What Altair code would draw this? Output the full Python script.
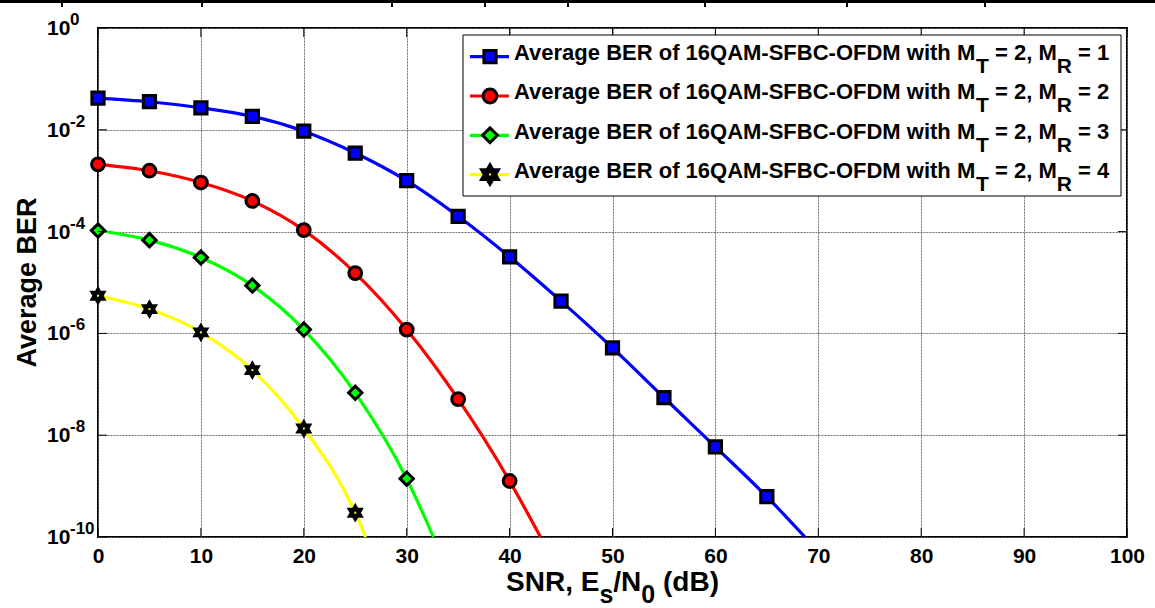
import altair as alt
import pandas as pd

# ---------------- data ----------------
series = ["MR1", "MR2", "MR3", "MR4"]
mr_labels = ["1", "2", "3", "4"]

snr_mr1 = [0, 5, 10, 15, 20, 25, 30, 35, 40, 45, 50, 55, 60, 65]
ber_mr1 = [4.2e-2, 3.56e-2, 2.71e-2, 1.84e-2, 9.4e-3, 3.5e-3, 1.0e-3, 2.0e-4,
           3.2e-5, 4.3e-6, 5.2e-7, 5.5e-8, 5.9e-9, 6.2e-10]
snr_mr2 = [0, 5, 10, 15, 20, 25, 30, 35, 40]
ber_mr2 = [2.1e-3, 1.57e-3, 9.2e-4, 4.0e-4, 1.07e-4, 1.53e-5, 1.19e-6, 5.1e-8, 1.26e-9]
snr_mr3 = [0, 5, 10, 15, 20, 25, 30]
ber_mr3 = [1.05e-4, 6.8e-5, 3.1e-5, 8.7e-6, 1.19e-6, 6.8e-8, 1.4e-9]
snr_mr4 = [0, 5, 10, 15, 20, 25]
ber_mr4 = [5.5e-6, 3.0e-6, 1.05e-6, 1.9e-7, 1.35e-8, 3.0e-10]

# SNR where each curve leaves the plot through the 1e-10 floor
exit_snr = [68.7, 43.0, 32.6, 26.0]
floor_ber = 1e-10

x_tick_values = [0, 10, 20, 30, 40, 50, 60, 70, 80, 90, 100]
y_exponents = [0, -2, -4, -6, -8, -10]

# ---------------- styles ----------------
colors = ["#0000ff", "#ff0000", "#00ff00", "#ffff00"]
marker_fill = ["#0000ff", "#ff0000", "#00ff00", "#000000"]
star_path = ("M0,-1L0.289,-0.5L0.866,-0.5L0.577,0L0.866,0.5L0.289,0.5L0,1"
             "L-0.289,0.5L-0.866,0.5L-0.577,0L-0.866,-0.5L-0.289,-0.5Z")
shapes = ["square", "circle", "diamond", star_path]
sizes = [150, 190, 220, 380]
MSTROKE = 3

FONT = "Liberation Sans"
W, H = 1029, 509
PAD_L, PAD_T, PAD_R, PAD_B = 98, 28, 28, 71

# Arial/Liberation Sans Bold advance widths (per 1000 em), for placing sub-scripts
AW = {"A": 722, "B": 722, "C": 722, "D": 722, "E": 667, "F": 611, "M": 833, "N": 722,
      "O": 778, "Q": 778, "R": 722, "S": 667, "T": 611, "a": 556, "b": 611, "d": 611,
      "e": 556, "f": 333, "g": 611, "h": 611, "i": 278, "o": 611, "r": 389, "s": 556,
      "t": 333, "v": 556, "w": 778, " ": 278, "-": 333, "=": 584, ",": 278, "/": 278,
      "(": 333, ")": 333}


def tw(s, size):
    return sum(AW.get(c, 556) for c in s) * size / 1000.0


# ---------------- tables ----------------
pts_rows, line_rows = [], []
for name, xs, ys, xe in zip(series, [snr_mr1, snr_mr2, snr_mr3, snr_mr4],
                            [ber_mr1, ber_mr2, ber_mr3, ber_mr4], exit_snr):
    for a, b in zip(xs, ys):
        pts_rows.append({"series": name, "snr": a, "ber": b})
        line_rows.append({"series": name, "snr": a, "ber": b})
    line_rows.append({"series": name, "snr": xe, "ber": floor_ber})
pts = pd.DataFrame(pts_rows)
line_df = pd.DataFrame(line_rows)

xt_df = pd.DataFrame({"snr": x_tick_values})
yt_df = pd.DataFrame({"ber": [10.0 ** e for e in y_exponents],
                      "exp": [str(e) for e in y_exponents]})
one = pd.DataFrame({"k": [0]})

# ---------------- scales / encodings ----------------
xscale = alt.Scale(domain=[0, 100], nice=False, zero=False)
yscale = alt.Scale(type="log", domain=[1e-10, 1], nice=False)

xaxis = alt.Axis(values=x_tick_values, grid=True, ticks=False, domain=False, title=None,
                 labelFont=FONT, labelFontSize=21, labelFontWeight="bold",
                 labelColor="black", labelPadding=8, labelFlush=False,
                 gridColor="#707070", gridDash=[2, 1], gridWidth=1)
yaxis = alt.Axis(values=[10.0 ** e for e in y_exponents], grid=True, ticks=False,
                 domain=False, labels=False, title=None,
                 gridColor="#707070", gridDash=[2, 1], gridWidth=1)

X = alt.X("snr:Q", scale=xscale, axis=xaxis)
Y = alt.Y("ber:Q", scale=yscale, axis=yaxis)

lines = alt.Chart(line_df).mark_line(strokeWidth=3.2, interpolate="monotone").encode(
    x=X, y=Y,
    color=alt.Color("series:N", scale=alt.Scale(domain=series, range=colors), legend=None),
)

points = alt.Chart(pts).mark_point(filled=True, stroke="black", strokeWidth=MSTROKE,
                                   opacity=1).encode(
    x=X, y=Y,
    shape=alt.Shape("series:N", scale=alt.Scale(domain=series, range=shapes), legend=None),
    size=alt.Size("series:O", scale=alt.Scale(domain=series, range=sizes), legend=None),
    fill=alt.Fill("series:N", scale=alt.Scale(domain=series, range=marker_fill), legend=None),
)

star_centres = alt.Chart(pts).transform_filter(alt.datum.series == "MR4").mark_point(
    shape="square", filled=True, fill="#ffff00", size=4, strokeWidth=0, opacity=1
).encode(x=X, y=Y)

# inward ticks on all four sides
tick_len = 9
xt_bottom = alt.Chart(xt_df).mark_rule(color="black", strokeWidth=1).encode(
    x=X, y=alt.value(H), y2=alt.value(H - tick_len))
xt_top = alt.Chart(xt_df).mark_rule(color="black", strokeWidth=1).encode(
    x=X, y=alt.value(0), y2=alt.value(tick_len))
yt_left = alt.Chart(yt_df).mark_rule(color="black", strokeWidth=1).encode(
    y=Y, x=alt.value(0), x2=alt.value(tick_len))
yt_right = alt.Chart(yt_df).mark_rule(color="black", strokeWidth=1).encode(
    y=Y, x=alt.value(W), x2=alt.value(W - tick_len))

# y tick labels 10^n
ylab_base = alt.Chart(yt_df).mark_text(align="left", baseline="alphabetic", font=FONT,
                                       fontSize=21, fontWeight="bold", color="black",
                                       dy=7).encode(
    y=Y, x=alt.value(-51), text=alt.value("10"))
ylab_exp = alt.Chart(yt_df).mark_text(align="left", baseline="alphabetic", font=FONT,
                                      fontSize=17, fontWeight="bold", color="black",
                                      dy=-3).encode(
    y=Y, x=alt.value(-28), text="exp:N")

layers = [lines, points, star_centres, xt_bottom, xt_top, yt_left, yt_right,
          ylab_base, ylab_exp]


def txt(s, x, y, size, align="left", angle=0, baseline="alphabetic"):
    m = alt.Chart(one).mark_text(align=align, baseline=baseline, font=FONT,
                                 fontSize=size, fontWeight="bold", color="black",
                                 text=s, angle=angle)
    return m.encode(x=alt.value(x), y=alt.value(y))


# y title
layers.append(txt("Average BER", -70, H / 2, 27, align="center", angle=270,
                  baseline="middle"))

# x title with subscripts
MAIN, SUB = 28, 25
total = (tw("SNR, E", MAIN) + tw("s", SUB) + tw("/N", MAIN) + tw("0", SUB)
         + tw(" ", MAIN) + tw("(dB)", MAIN))
xb = H + 54
xs_ = W / 2 - total / 2
layers.append(txt("SNR, E", xs_, xb, MAIN)); xs_ += tw("SNR, E", MAIN)
layers.append(txt("s", xs_, xb + 12, SUB)); xs_ += tw("s", SUB)
layers.append(txt("/N", xs_, xb, MAIN)); xs_ += tw("/N", MAIN)
layers.append(txt("0", xs_, xb + 12, SUB)); xs_ += tw("0", SUB) + tw(" ", MAIN)
layers.append(txt("(dB)", xs_, xb, MAIN))

# legend
LX0, LX1, LY0, LY1 = 365, 1023, 7, 168
layers.append(alt.Chart(one).mark_rect(fill="white", stroke="black", strokeWidth=1).encode(
    x=alt.value(LX0), x2=alt.value(LX1), y=alt.value(LY0), y2=alt.value(LY1)))
LS, LSUB = 22, 21
row_gap = 39.3
for i, name in enumerate(series):
    my = 28.7 + i * row_gap
    by = 32 + i * row_gap
    layers.append(alt.Chart(one).mark_rule(color=colors[i], strokeWidth=3.2).encode(
        x=alt.value(372), x2=alt.value(411), y=alt.value(my)))
    layers.append(alt.Chart(one).mark_point(shape=shapes[i], size=sizes[i], filled=True,
                                            fill=marker_fill[i], stroke="black",
                                            strokeWidth=MSTROKE, opacity=1).encode(
        x=alt.value(392), y=alt.value(my)))
    if i == 3:
        layers.append(alt.Chart(one).mark_point(shape="square", size=4, filled=True,
                                                fill="#ffff00", strokeWidth=0,
                                                opacity=1).encode(
            x=alt.value(392), y=alt.value(my)))
    px = 416
    p1 = "Average BER of 16QAM-SFBC-OFDM with M"
    layers.append(txt(p1, px, by, LS)); px += tw(p1, LS)
    layers.append(txt("T", px, by + 13, LSUB)); px += tw("T", LSUB) + tw(" ", LS)
    p2 = "= 2, M"
    layers.append(txt(p2, px, by, LS)); px += tw(p2, LS)
    layers.append(txt("R", px, by + 13, LSUB)); px += tw("R", LSUB) + tw(" ", LS)
    layers.append(txt("= " + mr_labels[i], px, by, LS))

# fragment of a table border at the very top of the page
border_ticks_x = [62, 202, 392, 485, 568, 705, 847, 985]
layers.append(alt.Chart(one).mark_rule(color="black", strokeWidth=3).encode(
    x=alt.value(-PAD_L), x2=alt.value(W + PAD_R), y=alt.value(-PAD_T + 1.5)))
for bx in border_ticks_x:
    layers.append(alt.Chart(one).mark_rule(color="black", strokeWidth=2).encode(
        x=alt.value(bx - PAD_L), y=alt.value(-PAD_T), y2=alt.value(-PAD_T + 7)))

chart = alt.layer(*layers).properties(
    width=W, height=H,
    autosize=alt.AutoSizeParams(type="none"),
    padding={"left": PAD_L, "top": PAD_T, "right": PAD_R, "bottom": PAD_B},
    background="white",
).configure_view(stroke="black", strokeWidth=2)

chart.save("out.html", embed_options={"renderer": "svg", "actions": False})
